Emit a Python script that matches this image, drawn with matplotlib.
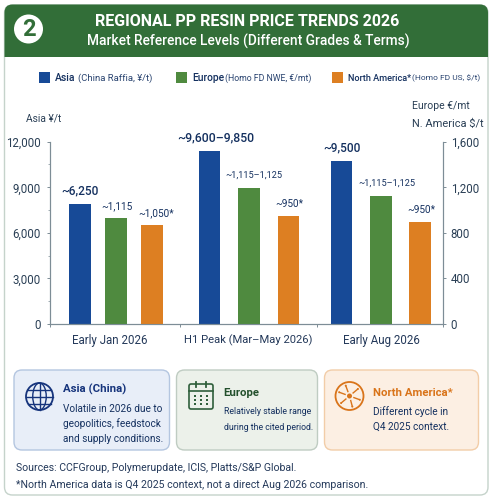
import matplotlib
matplotlib.use("Agg")
import matplotlib.pyplot as plt
import numpy as np
from matplotlib.patches import Circle, Ellipse, FancyBboxPatch, PathPatch, Rectangle
from matplotlib.path import Path

plt.rcParams["font.family"] = ["Roboto", "DejaVu Sans"]

W, H = 492, 499

# data (bar heights do not follow the printed labels)
periods = ["Early Jan 2026", "H1 Peak (Mar\u2013May 2026)", "Early Aug 2026"]
asia = [7900, 11400, 10710]
europe = [928, 1193, 1126]
north_america = [866, 948, 892]
asia_labels = ["~6,250", "~9,600\u20139,850", "~9,500"]
europe_labels = ["~1,115", "~1,115\u20131,125", "~1,115\u20131,125"]
na_labels = ["~1,050*", "~950*", "~950*"]
left_ticks = [0, 3000, 6000, 9000, 12000]
right_ticks = [0, 400, 800, 1200, 1600]

BLUE = "#174a97"
GREEN = "#4f8a3f"
ORANGE = "#dd7f22"
NAVY = "#14305f"
HEADER = "#326e38"
AXIS = "#7d8d96"

fig = plt.figure(figsize=(W / 100, H / 100), dpi=100, facecolor="white")

# full-figure layer in pixel coordinates for the card, header, boxes and icons
bg = fig.add_axes([0, 0, 1, 1], zorder=0)
bg.set_xlim(0, W)
bg.set_ylim(H, 0)
bg.axis("off")


def px_text(x, y, s, size, color=NAVY, weight="normal", ha="left", **kw):
    return bg.text(x, y, s, fontsize=size, color=color, fontweight=weight,
                   ha=ha, va="center", **kw)


def round_box(x0, y0, x1, y1, r, fc, ec, lw=1.0, ax=None):
    box = FancyBboxPatch((x0 + r, y0 + r), x1 - x0 - 2 * r, y1 - y0 - 2 * r,
                         boxstyle=f"round,pad={r},rounding_size={r}",
                         fc=fc, ec=ec, lw=lw)
    (ax or bg).add_patch(box)
    return box


# card and header
round_box(4.5, 5, 488, 495, 8, "white", "#c5d3cb", 1.0)
header = round_box(4.5, 4.5, 488, 80, 8, HEADER, "none")
clip = Rectangle((0, 0), W, 56.5, transform=bg.transData)
header.set_clip_path(clip)

bg.add_patch(Circle((28.5, 29), 14.5, fc="white", ec="none", zorder=3))
px_text(28.5, 29.5, "2", 17, color=HEADER, weight="bold", ha="center", zorder=4)
px_text(247.5, 21, "REGIONAL PP RESIN PRICE TRENDS 2026", 11.5, "white", "bold", "center")
px_text(248, 41.5, "Market Reference Levels (Different Grades & Terms)", 9.9, "white",
        "medium", "center")

# legend
for x0, col in [(38.5, BLUE), (176, GREEN), (331.5, ORANGE)]:
    bg.add_patch(Rectangle((x0, 72), 11, 11, fc=col, ec="none"))
px_text(55, 78, "Asia", 7.4, NAVY, "medium")
px_text(77.5, 78, "(China Raffia, \u00a5/t)", 6.8, "#2a4470")
px_text(192, 78, "Europe", 7.4, NAVY, "medium")
px_text(225, 78, "(Homo FD NWE, \u20ac/mt)", 6.3, "#2a4470")
px_text(348, 78, "North America*", 6.6, NAVY, "medium")
px_text(412.5, 78, "(Homo FD US, $/t)", 6.0, "#2a4470")

# axis captions
px_text(26, 118, "Asia \u00a5/t", 7.4, "#2a3f55")
px_text(411.5, 105.5, "Europe \u20ac/mt", 7.5, "#2a3f55")
px_text(412, 123.5, "N. America $/t", 7.9, "#2a3f55")

# chart, axes cover the pixel span 50..443 so bar positions are in pixels
ax = fig.add_axes([50 / W, 1 - 324 / H, 393 / W, 182.3 / H], zorder=1)
ax.patch.set_alpha(0)
ax.set_xlim(50, 443)
ax.set_ylim(0, 12000)
ax2 = ax.twinx()
ax2.set_ylim(0, 1600)
ax2.patch.set_alpha(0)

group_x = np.array([116.0, 249.0, 380.7])
group_step = np.array([36.0, 39.5, 39.3])
bar_w = 21.8

ax.bar(group_x - group_step, asia, bar_w, color=BLUE)
ax2.bar(group_x, europe, bar_w, color=GREEN)
ax2.bar(group_x + group_step, north_america, bar_w, color=ORANGE)

# label nudges in pixels, the labels are not quite centred over the bars
asia_dx = [0, 6, 0.5]
europe_dx = [1, 5, 6]
na_dx = [4.5, 0.5, 1.5]
asia_sizes = [8.6, 8.8, 8.6]
europe_sizes = [7.2, 6.6, 6.6]
for i in range(3):
    ax.annotate(asia_labels[i], (group_x[i] - group_step[i], asia[i]),
                xytext=(asia_dx[i], 13), textcoords="offset pixels", ha="center", va="center",
                fontsize=asia_sizes[i], color=NAVY, fontweight="medium")
    ax2.annotate(europe_labels[i], (group_x[i], europe[i]), xytext=(europe_dx[i], 12.5),
                 textcoords="offset pixels", ha="center", va="center",
                 fontsize=europe_sizes[i], color=NAVY)
    ax2.annotate(na_labels[i], (group_x[i] + group_step[i], north_america[i]),
                 xytext=(na_dx[i], 12), textcoords="offset pixels", ha="center", va="center",
                 fontsize=7.2, color=NAVY)

ax.set_xticks([50, 180, 316.5, 443])
ax.set_xticklabels([])
ax.set_yticks(left_ticks)
ax.set_yticklabels([f"{t:,}" for t in left_ticks], fontsize=8.3, color="#2a3f55")
ax.set_yticks([1500, 4500, 7500, 10500], minor=True)
ax2.set_yticks(right_ticks)
ax2.set_yticklabels([f"{t:,}" for t in right_ticks], fontsize=8.3, color="#2a3f55")
ax.tick_params(axis="y", which="major", length=2.5, width=0.7, color=AXIS, pad=4)
ax.tick_params(axis="y", which="minor", length=1.5, width=0.5, color=AXIS)
ax.tick_params(axis="x", length=2.5, width=0.7, color=AXIS)
ax2.tick_params(axis="y", length=2.5, width=0.7, color=AXIS, pad=3)
for a in (ax, ax2):
    a.spines["top"].set_visible(False)
    for side in ("left", "right", "bottom"):
        a.spines[side].set_color(AXIS)
        a.spines[side].set_linewidth(0.8)

for x, label, size in zip([109.5, 248, 381.5], periods, [8.3, 8.1, 8.3]):
    px_text(x, 340.5, label, size, "#24395a", ha="center")

# note boxes
round_box(14, 370, 169.5, 450, 8, "#e8eef8", "#b4c6e0")
round_box(176.5, 370, 317.5, 450, 8, "#ecf1ea", "#bfccc2")
round_box(324.5, 370, 478.5, 450, 8, "#fcefe3", "#f2cda8")

px_text(63, 389.5, "Asia (China)", 8.2, "#16347c", "bold")
for y, s in zip([408.5, 423.5, 438.5],
                ["Volatile in 2026 due to", "geopolitics, feedstock", "and supply conditions."]):
    px_text(63, y, s, 7.2, NAVY)
px_text(223.5, 393, "Europe", 8.2, "#23502c", "bold")
for y, s in zip([412, 427], ["Relatively stable range", "during the cited period."]):
    px_text(223.5, y, s, 6.3, NAVY)
px_text(373, 393, "North America*", 8.2, "#d9741a", "bold")
for y, s in zip([412, 427], ["Different cycle in", "Q4 2025 context."]):
    px_text(373, y, s, 7.2, NAVY)

# globe icon
gc = (39.5, 396.5)
bg.add_patch(Circle(gc, 13.5, fc="none", ec="#16347c", lw=1.3))
bg.add_patch(Ellipse(gc, 13.5, 27, fc="none", ec="#16347c", lw=1))
bg.plot([gc[0] - 13.5, gc[0] + 13.5], [gc[1]] * 2, color="#16347c", lw=1)
bg.plot([gc[0]] * 2, [gc[1] - 13.5, gc[1] + 13.5], color="#16347c", lw=1)
for dy, hw in [(-7, 11.5), (7, 11.5)]:
    bg.plot([gc[0] - hw, gc[0] + hw], [gc[1] + dy] * 2, color="#16347c", lw=1)

# calendar icon
cal = "#2f5f3b"
round_box(189, 384, 213, 409, 2, "none", cal, 1.2)
bg.plot([189, 213], [391, 391], color=cal, lw=1.2)
for x in (196, 206):
    bg.plot([x, x], [382, 387], color=cal, lw=1.3)
for row in (395.5, 399.5, 403.5):
    for x in (195, 201, 207):
        bg.add_patch(Rectangle((x - 1.3, row - 1), 2.6, 2, fc=cal, ec="none"))

# network icon
oc = (349.5, 396)
bg.add_patch(Circle(oc, 14, fc="none", ec="#d9741a", lw=1.3))
bg.add_patch(Circle(oc, 2.5, fc="#d9741a", ec="none"))
for ang in np.deg2rad([20, 75, 140, 200, 250, 320]):
    p0 = (oc[0] + 4 * np.cos(ang), oc[1] + 4 * np.sin(ang))
    p1 = (oc[0] + 11 * np.cos(ang), oc[1] + 11 * np.sin(ang))
    bg.add_patch(PathPatch(Path([p0, p1]), ec="#d9741a", lw=1))
    bg.add_patch(Circle(p1, 1, fc="#d9741a", ec="none"))

# footnotes
px_text(15.5, 468, "Sources: CCFGroup, Polymerupdate, ICIS, Platts/S&P Global.", 7.55, "#24395a")
px_text(15.5, 484.5, "*North America data is Q4 2025 context, not a direct Aug 2026 comparison.", 7.55,
        "#24395a")

fig.savefig("out.png", dpi=100)
